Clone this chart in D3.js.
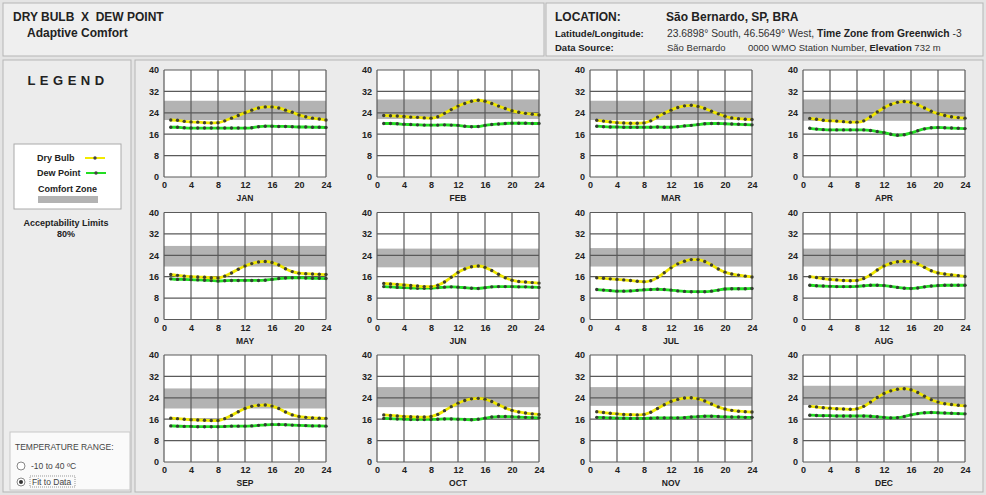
<!DOCTYPE html>
<html>
<head>
<meta charset="utf-8">
<script src="https://cdn.jsdelivr.net/npm/d3@7"></script>
<style>
  body { margin: 0; background: #e4e4e4; font-family: "Liberation Sans", Arial, sans-serif; }
  svg text { font-family: "Liberation Sans", Arial, sans-serif; }
</style>
</head>
<body>
<svg width="986" height="495"></svg>
<script>
// months and hourly values (hour 1..24)
var months = ['JAN','FEB','MAR','APR','MAY','JUN','JUL','AUG','SEP','OCT','NOV','DEC'];
var hours = d3.range(1, 25);
var xTicks = [0, 4, 8, 12, 16, 20, 24];
var yTicks = [0, 8, 16, 24, 32, 40];

var dryBulb = [
  [21.3,21.2,20.8,20.6,20.5,20.3,20.2,20.3,21.0,22.0,23.0,24.0,25.0,25.8,26.2,26.2,25.8,25.0,24.2,23.2,22.5,22.0,21.7,21.3],
  [23.0,22.9,22.8,22.6,22.4,22.3,22.1,22.0,22.5,23.8,25.2,26.5,27.5,28.3,28.7,28.3,27.5,26.5,25.6,24.8,24.2,23.8,23.5,23.2],
  [21.2,20.9,20.6,20.3,20.2,20.1,20.1,20.2,21.0,22.4,23.8,25.0,26.0,26.6,26.8,26.4,25.6,24.6,23.6,22.7,22.1,21.8,21.6,21.5],
  [21.9,21.6,21.2,21.0,20.9,20.7,20.5,20.5,21.0,22.5,24.3,25.9,27.1,27.9,28.2,27.9,27.0,25.8,24.6,23.7,23.0,22.5,22.2,22.0],
  [16.8,16.5,16.2,16.0,15.9,15.8,15.6,15.5,16.2,17.4,18.8,20.0,20.9,21.5,21.7,21.3,20.4,19.0,17.9,17.3,17.1,17.0,16.9,16.8],
  [13.5,13.3,13.1,12.9,12.7,12.5,12.3,12.3,12.8,14.0,15.8,17.6,18.9,19.7,20.0,19.5,18.3,16.9,15.6,14.7,14.2,14.0,13.8,13.6],
  [15.6,15.4,15.2,15.0,14.8,14.6,14.3,14.1,14.5,15.7,17.5,19.3,20.8,21.8,22.4,22.4,21.7,20.4,18.9,17.7,17.0,16.6,16.2,15.9],
  [16.0,15.7,15.3,15.0,14.8,14.6,14.5,14.6,15.3,16.7,18.5,20.0,21.0,21.6,21.8,21.6,20.8,19.5,18.2,17.4,17.0,16.7,16.4,16.1],
  [16.4,16.2,16.0,15.8,15.7,15.6,15.5,15.5,16.2,17.4,18.8,20.0,20.8,21.2,21.3,20.9,20.0,18.7,17.6,17.0,16.7,16.5,16.4,16.3],
  [17.6,17.4,17.2,17.0,16.9,16.8,16.8,17.0,17.8,19.2,20.7,22.0,23.0,23.6,23.8,23.5,22.6,21.4,20.2,19.3,18.7,18.3,18.0,17.8],
  [18.8,18.5,18.2,18.0,17.8,17.7,17.6,17.8,18.6,20.0,21.4,22.6,23.4,23.9,24.0,23.6,22.8,21.7,20.6,19.8,19.3,19.0,18.8,18.7],
  [20.8,20.6,20.3,20.1,19.9,19.8,19.7,19.9,20.8,22.4,24.1,25.6,26.6,27.2,27.4,27.0,26.0,24.6,23.3,22.4,21.8,21.5,21.2,21.0]
];

var dewPoint = [
  [18.6,18.6,18.4,18.3,18.3,18.3,18.3,18.3,18.3,18.3,18.3,18.3,18.4,18.8,19.0,19.0,18.9,18.9,18.8,18.7,18.7,18.6,18.6,18.5],
  [20.0,20.0,19.9,19.7,19.6,19.5,19.4,19.4,19.4,19.5,19.4,19.3,19.0,18.8,18.9,19.3,19.6,19.8,20.0,20.1,20.1,20.1,20.0,20.0],
  [19.0,18.8,18.7,18.7,18.6,18.6,18.6,18.6,18.6,18.7,18.6,18.6,18.8,19.1,19.3,19.6,19.9,20.0,20.0,19.9,19.8,19.7,19.6,19.5],
  [18.2,17.9,17.7,17.6,17.6,17.6,17.6,17.6,17.6,17.4,17.0,16.6,16.0,15.6,15.8,16.5,17.3,18.0,18.4,18.5,18.4,18.3,18.2,18.1],
  [15.2,15.0,15.0,14.9,14.8,14.7,14.6,14.4,14.5,14.6,14.6,14.6,14.6,14.6,14.7,15.0,15.3,15.5,15.6,15.6,15.5,15.4,15.4,15.3],
  [12.3,12.2,12.0,11.9,11.8,11.7,11.7,11.7,11.9,12.1,12.2,12.1,11.9,11.7,11.6,11.9,12.2,12.3,12.3,12.3,12.2,12.2,12.1,12.0],
  [11.2,11.0,10.8,10.6,10.6,10.7,10.9,11.1,11.2,11.3,11.2,11.0,10.7,10.5,10.4,10.4,10.4,10.6,11.0,11.4,11.5,11.5,11.5,11.6],
  [12.8,12.6,12.5,12.4,12.3,12.3,12.3,12.4,12.6,12.8,12.8,12.7,12.4,12.0,11.7,11.6,11.8,12.2,12.5,12.7,12.8,12.8,12.8,12.8],
  [13.5,13.4,13.3,13.3,13.2,13.2,13.2,13.2,13.3,13.4,13.4,13.4,13.5,13.7,13.9,14.0,14.0,13.9,13.8,13.7,13.6,13.5,13.5,13.4],
  [16.3,16.2,16.1,16.0,15.9,15.9,15.9,15.9,16.0,16.1,16.1,16.0,15.9,15.8,16.0,16.4,16.8,17.0,17.0,16.9,16.8,16.7,16.6,16.5],
  [16.7,16.6,16.5,16.4,16.4,16.3,16.3,16.3,16.4,16.5,16.5,16.5,16.5,16.6,16.8,17.0,17.1,17.1,17.0,16.9,16.8,16.8,16.7,16.7],
  [17.5,17.4,17.3,17.3,17.2,17.2,17.2,17.2,17.2,17.1,16.9,16.7,16.5,16.6,17.0,17.6,18.1,18.4,18.5,18.4,18.3,18.2,18.1,18.0]
];

// comfort zone (80% acceptability) lower / upper limits per month
var comfortLow  = [21.3, 21.7, 21.3, 21.0, 19.8, 19.5, 19.8, 19.8, 20.0, 20.5, 21.0, 21.3];
var comfortHigh = [28.5, 29.0, 28.5, 29.0, 27.5, 26.5, 26.7, 26.5, 27.5, 28.0, 28.0, 28.5];

var svg = d3.select('svg');

// ---- header
svg.append('rect').attr('x', 3).attr('y', 3).attr('width', 541).attr('height', 53)
    .attr('fill', '#efefef').attr('stroke', '#b5b5b5');
svg.append('rect').attr('x', 546).attr('y', 3).attr('width', 437).attr('height', 53)
    .attr('fill', '#efefef').attr('stroke', '#b5b5b5');

svg.append('text').attr('x', 13).attr('y', 21).attr('font-size', 12).attr('font-weight', 'bold')
    .attr('fill', '#222').attr('xml:space', 'preserve').text('DRY BULB  X  DEW POINT');
svg.append('text').attr('x', 27).attr('y', 37).attr('font-size', 12).attr('font-weight', 'bold')
    .attr('fill', '#222').text('Adaptive Comfort');

svg.append('text').attr('x', 555).attr('y', 21).attr('font-size', 12).attr('font-weight', 'bold')
    .attr('fill', '#222').text('LOCATION:');
svg.append('text').attr('x', 666).attr('y', 21).attr('font-size', 12).attr('font-weight', 'bold')
    .attr('fill', '#222').text('São Bernardo, SP, BRA');
svg.append('text').attr('x', 555).attr('y', 37).attr('font-size', 9.5).attr('font-weight', 'bold')
    .attr('fill', '#222').text('Latitude/Longitude:');
svg.append('text').attr('x', 555).attr('y', 51).attr('font-size', 9.5).attr('font-weight', 'bold')
    .attr('fill', '#222').text('Data Source:');

var latLine = svg.append('text').attr('x', 667).attr('y', 37).attr('font-size', 10.3).attr('fill', '#333');
latLine.append('tspan').text('23.6898° South, 46.5649° West, ');
latLine.append('tspan').attr('font-weight', 'bold').attr('fill', '#222').text('Time Zone from Greenwich');
latLine.append('tspan').text(' -3');

svg.append('text').attr('x', 667).attr('y', 51).attr('font-size', 9.5).attr('fill', '#333').text('São Bernardo');
var srcLine = svg.append('text').attr('x', 748).attr('y', 51).attr('font-size', 9.5).attr('fill', '#333');
srcLine.append('tspan').text('0000 WMO Station Number, ');
srcLine.append('tspan').attr('font-weight', 'bold').attr('fill', '#222').text('Elevation');
srcLine.append('tspan').text(' 732 m');

// ---- left legend panel
svg.append('rect').attr('x', 3).attr('y', 60).attr('width', 128).attr('height', 432)
    .attr('fill', '#ececec').attr('stroke', '#b5b5b5');
svg.append('text').attr('x', 68).attr('y', 85).attr('text-anchor', 'middle').attr('font-size', 13)
    .attr('font-weight', 'bold').attr('letter-spacing', 4.5).attr('fill', '#222').text('LEGEND');

svg.append('rect').attr('x', 14).attr('y', 144).attr('width', 107).attr('height', 65)
    .attr('fill', '#fff').attr('stroke', '#aaa');
svg.append('text').attr('x', 37).attr('y', 161).attr('font-size', 9).attr('font-weight', 'bold')
    .attr('fill', '#222').text('Dry Bulb');
svg.append('line').attr('x1', 85).attr('x2', 105).attr('y1', 158).attr('y2', 158)
    .attr('stroke', '#f2ea00').attr('stroke-width', 2);
svg.append('circle').attr('cx', 95).attr('cy', 158).attr('r', 1.7).attr('fill', '#444');
svg.append('text').attr('x', 37).attr('y', 176).attr('font-size', 9).attr('font-weight', 'bold')
    .attr('fill', '#222').text('Dew Point');
svg.append('line').attr('x1', 86).attr('x2', 106).attr('y1', 173).attr('y2', 173)
    .attr('stroke', '#22dd22').attr('stroke-width', 2);
svg.append('circle').attr('cx', 96).attr('cy', 173).attr('r', 1.7).attr('fill', '#444');
svg.append('text').attr('x', 38).attr('y', 192).attr('font-size', 9).attr('font-weight', 'bold')
    .attr('fill', '#222').text('Comfort Zone');
svg.append('rect').attr('x', 38).attr('y', 196).attr('width', 60).attr('height', 7).attr('fill', '#b3b3b3');

svg.append('text').attr('x', 66).attr('y', 226).attr('text-anchor', 'middle').attr('font-size', 9)
    .attr('font-weight', 'bold').attr('fill', '#222').text('Acceptability Limits');
svg.append('text').attr('x', 66).attr('y', 237).attr('text-anchor', 'middle').attr('font-size', 9)
    .attr('font-weight', 'bold').attr('fill', '#222').text('80%');

svg.append('rect').attr('x', 10).attr('y', 432).attr('width', 120).attr('height', 58)
    .attr('fill', '#fafafa').attr('stroke', '#c8c8c8');
svg.append('text').attr('x', 15).attr('y', 450).attr('font-size', 8.5).attr('fill', '#444')
    .text('TEMPERATURE RANGE:');
svg.append('circle').attr('cx', 21).attr('cy', 466).attr('r', 4).attr('fill', '#fff').attr('stroke', '#888');
svg.append('text').attr('x', 31).attr('y', 469).attr('font-size', 8.5).attr('fill', '#444').text('-10 to 40 ºC');
svg.append('circle').attr('cx', 21).attr('cy', 482).attr('r', 4).attr('fill', '#fff').attr('stroke', '#888');
svg.append('circle').attr('cx', 21).attr('cy', 482).attr('r', 2).attr('fill', '#333');
svg.append('rect').attr('x', 30).attr('y', 476).attr('width', 45).attr('height', 11)
    .attr('fill', 'none').attr('stroke', '#999').attr('stroke-dasharray', '1,1');
svg.append('text').attr('x', 32).attr('y', 485).attr('font-size', 8.5).attr('fill', '#444').text('Fit to Data');

// ---- chart area
svg.append('rect').attr('x', 135).attr('y', 60).attr('width', 848).attr('height', 432)
    .attr('fill', '#ebebeb').attr('stroke', '#b5b5b5');

var pw = 162, ph = 107;
var x = d3.scaleLinear().domain([0, 24]).range([0, pw]);
var y = d3.scaleLinear().domain([0, 40]).range([ph, 0]);

var line = d3.line()
    .x(function(d, i){ return x(hours[i]); })
    .y(function(d){ return y(d); })
    .curve(d3.curveMonotoneX);

months.forEach(function(m, i){
    var col = i % 4, row = Math.floor(i / 4);
    var g = svg.append('g')
        .attr('transform', 'translate(' + (164 + col * 213) + ',' + (70 + row * 142.5) + ')');

    g.append('rect').attr('width', pw).attr('height', ph).attr('fill', '#fff');

    g.append('rect')
        .attr('x', 0).attr('width', pw)
        .attr('y', y(comfortHigh[i]))
        .attr('height', y(comfortLow[i]) - y(comfortHigh[i]))
        .attr('fill', '#b3b3b3');

    g.selectAll('.vgrid').data(xTicks).enter().append('line')
        .attr('x1', function(d){ return x(d); }).attr('x2', function(d){ return x(d); })
        .attr('y1', 0).attr('y2', ph)
        .attr('stroke', '#5a5a5a').attr('stroke-width', 1.2);
    g.selectAll('.hgrid').data(yTicks).enter().append('line')
        .attr('y1', function(d){ return y(d); }).attr('y2', function(d){ return y(d); })
        .attr('x1', 0).attr('x2', pw)
        .attr('stroke', '#5a5a5a').attr('stroke-width', 1.2);

    g.append('path').datum(dewPoint[i]).attr('d', line)
        .attr('fill', 'none').attr('stroke', '#22e022').attr('stroke-width', 2.8);
    g.selectAll('.dpdot').data(dewPoint[i]).enter().append('circle')
        .attr('cx', function(d, j){ return x(hours[j]); })
        .attr('cy', function(d){ return y(d); })
        .attr('r', 1.7).attr('fill', '#333d33');

    g.append('path').datum(dryBulb[i]).attr('d', line)
        .attr('fill', 'none').attr('stroke', '#f0e800').attr('stroke-width', 2.8);
    g.selectAll('.dbdot').data(dryBulb[i]).enter().append('circle')
        .attr('cx', function(d, j){ return x(hours[j]); })
        .attr('cy', function(d){ return y(d); })
        .attr('r', 1.7).attr('fill', '#3d3d30');

    var xa = g.append('g').attr('transform', 'translate(0,' + ph + ')')
        .call(d3.axisBottom(x).tickValues(xTicks).tickSize(0).tickPadding(5));
    var ya = g.append('g')
        .call(d3.axisLeft(y).tickValues(yTicks).tickSize(0).tickPadding(5));
    [xa, ya].forEach(function(a){
        a.select('.domain').remove();
        a.selectAll('text').attr('font-size', 9).attr('font-weight', 'bold').attr('fill', '#222')
            .style('font-family', '"Liberation Sans", Arial, sans-serif');
    });

    g.append('text').attr('x', pw / 2).attr('y', ph + 24).attr('text-anchor', 'middle')
        .attr('font-size', 8.5).attr('font-weight', 'bold').attr('fill', '#222').text(m);
});
</script>
</body>
</html>
